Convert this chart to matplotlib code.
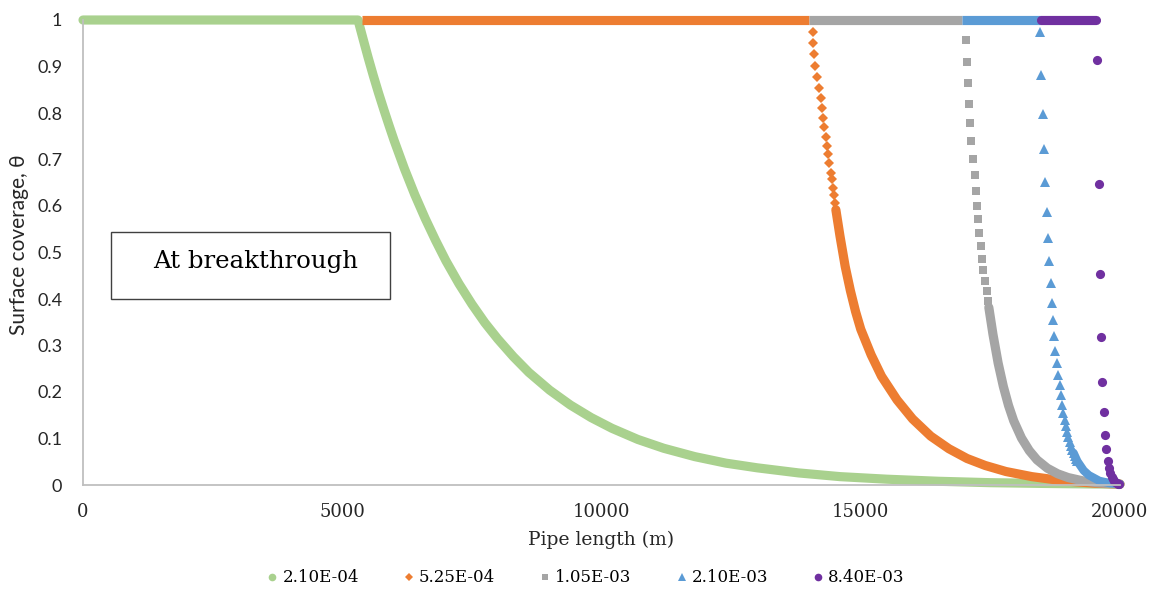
import matplotlib
matplotlib.use("Agg")
import matplotlib.pyplot as plt
from matplotlib.lines import Line2D
from matplotlib.patches import Rectangle

# ---- data: surface coverage profiles along the pipe at breakthrough ----
SERIES_LABELS = ["2.10E-04", "5.25E-04", "1.05E-03", "2.10E-03", "8.40E-03"]

# 2.10E-04 : full profile (flat part + decay)
GREEN_X = [0, 5304, 5400, 5500, 5600, 5700, 5800, 5900, 6000, 6200, 6400, 6600, 6800,
           7000, 7250, 7500, 7750, 8000, 8300, 8600, 9000, 9400, 9800, 10200, 10700,
           11200, 11800, 12400, 13000, 13800, 14600, 15500, 16500, 17500, 18500, 19500, 20000]
GREEN_Y = [1.0, 1.0, 0.960, 0.919, 0.880, 0.843, 0.808, 0.774, 0.741, 0.680, 0.624, 0.573,
           0.526, 0.482, 0.433, 0.389, 0.349, 0.314, 0.276, 0.242, 0.204, 0.172, 0.145,
           0.122, 0.098, 0.079, 0.061, 0.047, 0.037, 0.026, 0.018, 0.0125, 0.008, 0.005,
           0.0034, 0.0022, 0.0018]

# 5.25E-04
ORANGE_FLAT = [5375, 14010]
ORANGE_STEP_X = [14073, 14085, 14098, 14117, 14150, 14200, 14227, 14246, 14265, 14290,
                 14323, 14343, 14362, 14387, 14420, 14439, 14459, 14484, 14503]
ORANGE_STEP_Y = [0.975, 0.950, 0.926, 0.902, 0.878, 0.853, 0.833, 0.811, 0.790, 0.769,
                 0.749, 0.730, 0.711, 0.692, 0.672, 0.657, 0.639, 0.624, 0.607]
ORANGE_TAIL_X = [14520, 14600, 14700, 14800, 14900, 15000, 15200, 15400, 15700, 16000,
                 16350, 16700, 17050, 17400, 17800, 18300, 18900, 19500, 20000]
ORANGE_TAIL_Y = [0.592, 0.535, 0.470, 0.418, 0.373, 0.335, 0.280, 0.234, 0.183, 0.142,
                 0.105, 0.078, 0.057, 0.042, 0.029, 0.018, 0.009, 0.004, 0.002]

# 1.05E-03
GRAY_FLAT = [14010, 16950]
GRAY_STEP_X = [17024, 17043, 17068, 17088, 17113, 17132, 17159, 17203, 17223, 17248,
               17267, 17286, 17313, 17338, 17363, 17390, 17429, 17454]
GRAY_STEP_Y = [0.957, 0.909, 0.864, 0.819, 0.778, 0.740, 0.701, 0.667, 0.632, 0.601,
               0.571, 0.541, 0.513, 0.487, 0.462, 0.439, 0.417, 0.396]
GRAY_TAIL_X = [17470, 17550, 17650, 17750, 17850, 17950, 18100, 18250, 18400, 18600,
               18800, 19000, 19300, 19600, 20000]
GRAY_TAIL_Y = [0.382, 0.324, 0.262, 0.212, 0.171, 0.138, 0.101, 0.074, 0.054, 0.036,
               0.024, 0.016, 0.0085, 0.0045, 0.002]

# 2.10E-03
BLUE_FLAT = [16950, 18480]
BLUE_STEP_X = [18462, 18482, 18509, 18534, 18553, 18586, 18617, 18636, 18663, 18682,
               18701, 18727, 18746, 18778, 18810, 18842, 18862, 18887, 18906, 18931,
               18955, 18980, 19005, 19030, 19054, 19079, 19104, 19128, 19153, 19178]
BLUE_STEP_Y = [0.975, 0.882, 0.797, 0.722, 0.651, 0.588, 0.532, 0.482, 0.435, 0.392,
               0.355, 0.321, 0.289, 0.262, 0.237, 0.214, 0.194, 0.172, 0.154, 0.139,
               0.126, 0.114, 0.103, 0.093, 0.084, 0.076, 0.069, 0.062, 0.056, 0.051]
BLUE_TAIL_X = [19104, 19178, 19300, 19400, 19600, 19800, 20000]
BLUE_TAIL_Y = [0.069, 0.051, 0.031, 0.021, 0.009, 0.004, 0.002]

# 8.40E-03
PURPLE_FLAT = [18480, 19530]
PURPLE_STEP_X = [19562, 19589, 19612, 19637, 19662, 19687, 19712, 19737, 19762, 19787,
                 19812, 19837, 19862, 19887, 19912, 19937, 19962, 19987]
PURPLE_STEP_Y = [0.915, 0.647, 0.454, 0.319, 0.222, 0.156, 0.108, 0.077, 0.052, 0.036,
                 0.025, 0.018, 0.0126, 0.0088, 0.0062, 0.0043, 0.003, 0.002]

X_TICKS = [0, 5000, 10000, 15000, 20000]
Y_TICKS = [0, 0.1, 0.2, 0.3, 0.4, 0.5, 0.6, 0.7, 0.8, 0.9, 1]

# ---- styling ----
GREEN, ORANGE, GRAY, BLUE, PURPLE = "#A9D18E", "#ED7D31", "#A5A5A5", "#5B9BD5", "#7030A0"
SERIF = ["DejaVu Serif"]
SANS = ["Lato", "DejaVu Sans"]
LW = 6.6

fig = plt.figure(figsize=(11.58, 5.93), dpi=100)
ax = fig.add_axes([83 / 1158, 1 - 485 / 593, (1120 - 83) / 1158, (485 - 20) / 593])

def trace(x, y, color, lw=LW):
    ax.plot(x, y, color=color, lw=lw, solid_capstyle="round",
            solid_joinstyle="round", clip_on=False)

def dots(x, y, color, marker, ms):
    ax.plot(x, y, ls="none", color=color, marker=marker, ms=ms, mew=0, clip_on=False)

def flat(rng, color, cap="butt"):
    ax.plot(rng, [1, 1], color=color, lw=LW, solid_capstyle=cap, clip_on=False)

# 2.10E-04
trace(GREEN_X, GREEN_Y, GREEN)
# 5.25E-04
flat(ORANGE_FLAT, ORANGE)
dots(ORANGE_STEP_X, ORANGE_STEP_Y, ORANGE, "D", 4.6)
trace(ORANGE_TAIL_X, ORANGE_TAIL_Y, ORANGE)
# 1.05E-03
flat(GRAY_FLAT, GRAY)
dots(GRAY_STEP_X, GRAY_STEP_Y, GRAY, "s", 6.3)
trace(GRAY_TAIL_X, GRAY_TAIL_Y, GRAY)
# 2.10E-03
flat(BLUE_FLAT, BLUE)
trace(BLUE_TAIL_X, BLUE_TAIL_Y, BLUE, lw=6.0)
dots(BLUE_STEP_X, BLUE_STEP_Y, BLUE, "^", 6.8)
# 8.40E-03
flat(PURPLE_FLAT, PURPLE, cap="round")
dots(PURPLE_STEP_X, PURPLE_STEP_Y, PURPLE, "o", 6.6)

ax.set_xlim(0, 20000)
ax.set_ylim(0, 1)
ax.set_xticks(X_TICKS)
ax.set_xticklabels([str(v) for v in X_TICKS], fontfamily=SERIF, fontsize=13)
ax.set_yticks(Y_TICKS)
ax.set_yticklabels([f"{v:g}" for v in Y_TICKS], fontfamily=SANS, fontsize=13)
ax.tick_params(axis="x", length=0, pad=13, colors="#262626")
ax.tick_params(axis="y", length=0, pad=15, colors="#262626")
for side in ("top", "right"):
    ax.spines[side].set_visible(False)
for side in ("left", "bottom"):
    ax.spines[side].set_color("#BFBFBF")
    ax.spines[side].set_linewidth(1.3)

fig.text(601 / 1158, 1 - 540 / 593, "Pipe length (m)", ha="center", va="center",
         fontfamily=SERIF, fontsize=13.5, color="#262626")
fig.text(19 / 1158, 1 - 245 / 593, "Surface coverage, θ", ha="center", va="center",
         rotation=90, fontfamily=SANS, fontsize=15, color="#262626")

# annotation box
fig.patches.append(Rectangle((111 / 1158, 1 - 299 / 593), 279 / 1158, 67 / 593,
                             transform=fig.transFigure, fill=False,
                             edgecolor="#404040", lw=1.0))
fig.text(153 / 1158, 1 - 261 / 593, "At breakthrough", ha="left", va="center",
         fontfamily=SERIF, fontsize=17.6, color="black")

# legend
handles = [Line2D([], [], ls="none", marker=m, color=c, ms=s, mew=0)
           for m, c, s in [("o", GREEN, 5.5), ("D", ORANGE, 3.8), ("s", GRAY, 5.0),
                           ("^", BLUE, 5.5), ("o", PURPLE, 5.5)]]
fig.legend(handles, SERIES_LABELS, loc="center", bbox_to_anchor=(586 / 1158, 1 - 578 / 593),
           ncol=5, frameon=False, handlelength=0.6, handletextpad=0.3,
           columnspacing=2.7, prop={"family": SERIF, "size": 12})

fig.savefig("out.png", dpi=100)
